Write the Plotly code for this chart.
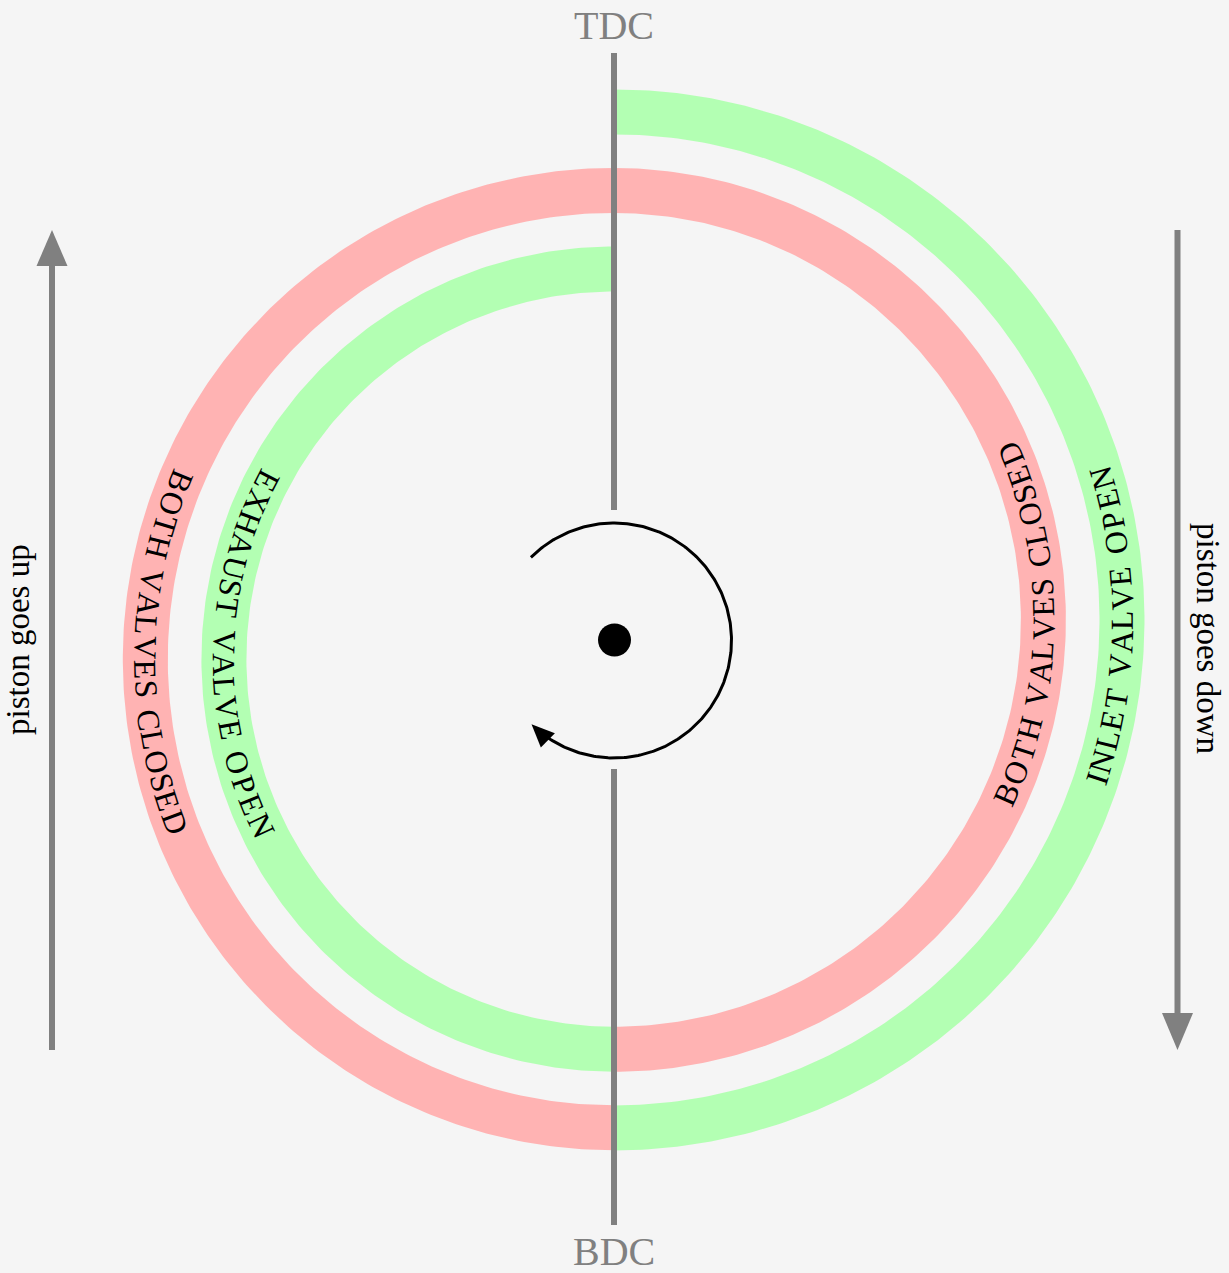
import numpy as np
import plotly.graph_objects as go

W, H = 1229, 1273

# ---------------- data ----------------
strokes = ["intake", "compression", "power", "exhaust"]
stroke_labels = ["INLET VALVE OPEN", "BOTH VALVES CLOSED", "BOTH VALVES CLOSED", "EXHAUST VALVE OPEN"]
stroke_valve_state = ["open", "closed", "closed", "open"]
stroke_sides = ["right", "left", "right", "left"]
dead_centre_labels = ["TDC", "BDC"]
piston_labels = ["piston goes up", "piston goes down"]

# ---------------- style / geometry ----------------
COLORS = {"open": "#b3ffb3", "closed": "#ffb3b3"}
BG = "#f5f5f5"
GREY = "#808080"
SERIF = "Liberation Serif"

R0 = 508.0        # radius of the first half turn
STEP = 39.3       # radius decrease per half turn
OFFSET = 19.6     # vertical shift of half-turn centres
CY = -1.5
BAND = 45
EM = 31.4         # px per em for the curved labels
TEXT_MID = {"right": -0.6, "left": 179.1}

CM_W = {'A': .75, 'B': .708, 'C': .722, 'D': .764, 'E': .681, 'H': .75, 'I': .361,
        'L': .625, 'N': .75, 'O': .778, 'P': .681, 'S': .556, 'T': .722, 'U': .75,
        'V': .75, 'X': .75, ' ': .333}

fig = go.Figure()
annotations = []


def arc(cx, cy, r, t0, t1, n=240):
    t = np.radians(np.linspace(t0, t1, n))
    return cx + r * np.cos(t), cy + r * np.sin(t)


# ---------------- spiral of strokes ----------------
for i, (name, label, state, side) in enumerate(zip(strokes, stroke_labels, stroke_valve_state, stroke_sides)):
    r = R0 - i * STEP
    cy = CY + OFFSET if side == "right" else CY - OFFSET
    t0, t1 = (90, -90) if side == "right" else (270, 90)
    xo, yo = arc(0, cy, r + BAND / 2, t0, t1)
    xi, yi = arc(0, cy, r - BAND / 2, t1, t0)
    fig.add_trace(go.Scatter(x=np.concatenate([xo, xi]), y=np.concatenate([yo, yi]),
                             mode="lines", fill="toself", fillcolor=COLORS[state],
                             line=dict(width=0, color=COLORS[state]), hoverinfo="skip"))
    # curved text
    widths = [CM_W.get(c, .7) * EM for c in label]
    total = sum(widths)
    s = -total / 2
    mid = TEXT_MID[side]
    for ch, w in zip(label, widths):
        sc = s + w / 2
        s += w
        if ch == " ":
            continue
        th = mid + np.degrees(sc / r)
        x = r * np.cos(np.radians(th))
        y = cy + r * np.sin(np.radians(th))
        ang = -(th + 90)
        ang = (ang + 180) % 360 - 180
        annotations.append(dict(x=x, y=y, xref="x", yref="y", text=ch, textangle=ang,
                                showarrow=False, xanchor="center", yanchor="middle",
                                font=dict(family=SERIF, size=32, color="black")))

# ---------------- TDC / BDC line ----------------
for ya, yb in [(585, 128), (-131, -587)]:
    fig.add_trace(go.Scatter(x=[0, 0], y=[ya, yb], mode="lines",
                             line=dict(color=GREY, width=6), hoverinfo="skip"))

annotations.append(dict(x=0, y=613, xref="x", yref="y", text=dead_centre_labels[0], showarrow=False,
                        font=dict(family=SERIF, size=40, color=GREY)))
annotations.append(dict(x=0, y=-613, xref="x", yref="y", text=dead_centre_labels[1], showarrow=False,
                        font=dict(family=SERIF, size=40, color=GREY)))


# ---------------- piston arrows ----------------
def straight_arrow(x, y_from, y_to, color, width, head_len, head_w):
    d = np.sign(y_to - y_from)
    base = y_to - d * head_len
    fig.add_trace(go.Scatter(x=[x, x], y=[y_from, base + d * 1], mode="lines",
                             line=dict(color=color, width=width), hoverinfo="skip"))
    fig.add_trace(go.Scatter(x=[x - head_w / 2, x + head_w / 2, x, x - head_w / 2],
                             y=[base, base, y_to, base], mode="lines", fill="toself",
                             fillcolor=color, line=dict(width=0, color=color), hoverinfo="skip"))


straight_arrow(-562, -412, 408, GREY, 6, 36, 31)
straight_arrow(563.5, 408, -412, GREY, 6, 37, 31)

annotations.append(dict(x=-596, y=-2, xref="x", yref="y", text=piston_labels[0], textangle=-90,
                        showarrow=False, font=dict(family=SERIF, size=33, color="black")))
annotations.append(dict(x=594, y=0, xref="x", yref="y", text=piston_labels[1], textangle=90,
                        showarrow=False, font=dict(family=SERIF, size=33, color="black")))

# ---------------- rotation arrow around crank centre ----------------
RC, RCY = 117.5, -2.5
tip = -134.6
head_len, head_w = 23, 20
end = tip + np.degrees(head_len / RC) * 0.85
xa, ya = arc(0, RCY, RC, 135, end, 300)
fig.add_trace(go.Scatter(x=xa, y=ya, mode="lines", line=dict(color="black", width=3), hoverinfo="skip"))
tr = np.radians(tip)
tx, ty = RC * np.cos(tr), RCY + RC * np.sin(tr)
dx, dy = np.sin(tr), -np.cos(tr)         # clockwise tangent
nx, ny = -dy, dx
bx, by = tx - head_len * dx, ty - head_len * dy
fig.add_trace(go.Scatter(x=[bx + nx * head_w / 2, tx, bx - nx * head_w / 2, bx + nx * head_w / 2],
                         y=[by + ny * head_w / 2, ty, by - ny * head_w / 2, by + ny * head_w / 2],
                         mode="lines", fill="toself", fillcolor="black",
                         line=dict(width=0, color="black"), hoverinfo="skip"))

fig.add_trace(go.Scatter(x=[0.5], y=[-2], mode="markers",
                         marker=dict(size=33, color="black", line=dict(width=0)), hoverinfo="skip"))

fig.update_layout(
    width=W, height=H, margin=dict(l=0, r=0, t=0, b=0),
    paper_bgcolor=BG, plot_bgcolor=BG, showlegend=False,
    xaxis=dict(range=[-614, 615], visible=False, fixedrange=True),
    yaxis=dict(range=[-635, 638], visible=False, fixedrange=True),
    annotations=annotations, hovermode=False,
)

fig.write_html("out.html", config={"displayModeBar": False},
               post_script="document.body.style.margin='0';document.body.style.overflow='hidden';")
